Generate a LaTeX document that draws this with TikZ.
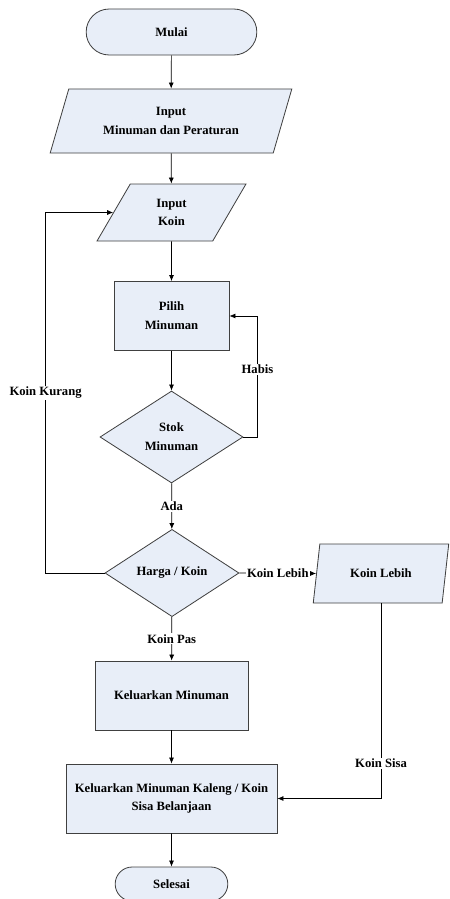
\documentclass[tikz,border=0pt]{standalone}
\usepackage{fontspec}
\setmainfont{Liberation Serif}
\usetikzlibrary{shapes.geometric,shapes.misc,arrows.meta}
\definecolor{boxfill}{HTML}{E8EEF8}
\definecolor{boxline}{HTML}{404040}
\begin{document}
\begin{tikzpicture}[x=0.03cm,y=-0.03cm,
    every node/.style={font=\fontsize{10.8}{16}\selectfont\bfseries, align=center},
    shp/.style={draw=boxline, fill=boxfill, line width=0.7pt, inner sep=1pt},
    terminal/.style={shp, rounded rectangle},
    proses/.style={shp, rectangle},
    io/.style={shp, trapezium, trapezium stretches=true},
    keputusan/.style={shp, diamond},
    arr/.style={-{Latex[length=1.8mm,width=1.5mm]}, line width=0.6pt},
    lbl/.style={fill=white, inner sep=1pt}]
    \useasboundingbox (0,0) rectangle (449,899);
    % simbol
    \node[terminal, minimum width=5.19cm, minimum height=1.38cm] (mulai) at (171.5,32) {Mulai};
    \node[io, trapezium left angle=67, trapezium right angle=113,
        minimum width=7.26cm, minimum height=1.92cm] (inputmin) at (171,121)
        {Input\\Minuman dan Peraturan};
    \node[io, trapezium left angle=66, trapezium right angle=114,
        minimum width=4.47cm, minimum height=1.71cm] (inputkoin) at (171.5,212.5)
        {Input\\Koin};
    \node[proses, minimum width=3.45cm, minimum height=2.07cm] (pilih) at (171.5,316)
        {Pilih\\Minuman};
    \node[keputusan, minimum width=4.29cm, minimum height=2.76cm] (stok) at (171.5,437)
        {Stok\\Minuman};
    \node[keputusan, minimum width=4.02cm, minimum height=2.46cm] (harga) at (172,573)
        {Harga / Koin};
    \node[io, trapezium left angle=73, trapezium right angle=107,
        minimum width=4.08cm, minimum height=1.77cm] (lebih) at (381,573.5)
        {Koin Lebih};
    \node[proses, minimum width=4.59cm, minimum height=2.07cm] (keluar) at (171.5,695.5)
        {Keluarkan Minuman};
    \node[proses, minimum width=6.33cm, minimum height=2.07cm] (kaleng) at (171.5,798.5)
        {Keluarkan Minuman Kaleng / Koin\\Sisa Belanjaan};
    \node[terminal, minimum width=3.45cm, minimum height=1.02cm] (selesai) at (171.5,884)
        {Selesai};
    % alur
    \draw[arr] (mulai) -- (inputmin);
    \draw[arr] (inputmin) -- (inputkoin);
    \draw[arr] (inputkoin) -- (pilih);
    \draw[arr] (pilih) -- (stok);
    \draw[arr] (stok) -- node[lbl]{Ada} (harga);
    \draw[arr] (stok.east) -- ++(14,0) |- node[lbl,pos=0.28]{Habis} (pilih.east);
    \draw[arr] (harga.west) -- ++(-59,0) |- node[lbl,pos=0.25]{Koin Kurang} (inputkoin.west);
    \draw[arr] (harga.east) -- node[lbl]{Koin Lebih} (lebih.west);
    \draw[arr] (harga) -- node[lbl]{Koin Pas} (keluar);
    \draw[arr] (keluar) -- (kaleng);
    \draw[arr] (lebih.south) |- node[lbl,pos=0.41]{Koin Sisa} (kaleng.east);
    \draw[arr] (kaleng) -- (selesai);
\end{tikzpicture}
\end{document}
